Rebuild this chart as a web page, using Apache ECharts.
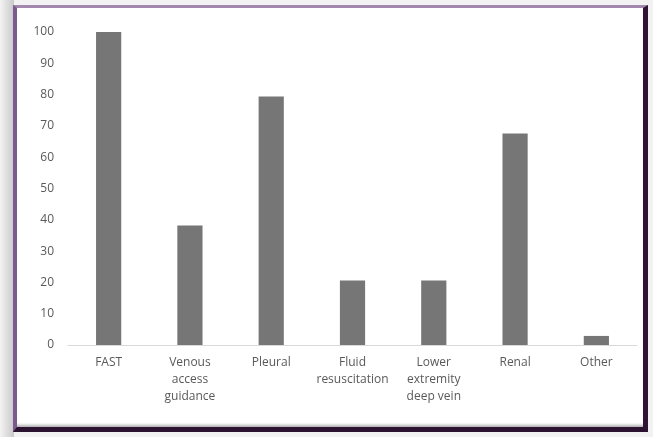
<!DOCTYPE html>
<html>
<head>
<meta charset="utf-8">
<script src="https://cdn.jsdelivr.net/npm/echarts@6/dist/echarts.min.js"></script>
<style>
  html, body { margin: 0; padding: 0; width: 653px; height: 437px; overflow: hidden; background: #f2f2f2; }
  #shadow { position: absolute; left: 0; top: 0; width: 14px; height: 437px;
    background: linear-gradient(to right, #f3f3f3, #c9c9c9); }
  #frame { position: absolute; left: 13px; top: 5px; width: 635px; height: 427px;
    background: #ffffff; border-left: 4px solid #7c5a8e; border-top: 3px solid #a387ae;
    border-right: 5px solid #2f1433; border-bottom: 5px solid #2a1230; box-sizing: border-box;
    box-shadow: inset 0 -4px 3px -2px #b0b0b0; }
  #chart { position: absolute; left: 0; top: 0; width: 653px; height: 437px; }
</style>
</head>
<body>
<div id="shadow"></div>
<div id="frame"></div>
<div id="chart"></div>
<script>
const categories = ['FAST', 'Venous\naccess\nguidance', 'Pleural', 'Fluid\nresuscitation', 'Lower\nextremity\ndeep vein', 'Renal', 'Other'];
const values = [100, 38.2, 79.4, 20.6, 20.6, 67.6, 2.9];

const chart = echarts.init(document.getElementById('chart'), null, { renderer: 'canvas' });
const font = 'Open Sans, Noto Sans, sans-serif';
chart.setOption({
  animation: false,
  backgroundColor: 'transparent',
  grid: { left: 68, right: 16, top: 32, bottom: 92 },
  xAxis: {
    type: 'category',
    data: categories,
    axisLine: { lineStyle: { color: '#d9d9d9', width: 1 } },
    axisTick: { show: false },
    axisLabel: { color: '#595959', fontSize: 12, fontFamily: font, lineHeight: 17, margin: 9, interval: 0 }
  },
  yAxis: {
    type: 'value',
    min: 0, max: 100, interval: 10,
    axisLine: { show: false },
    axisTick: { show: false },
    splitLine: { show: false },
    axisLabel: { color: '#595959', fontSize: 12, fontFamily: font, margin: 14 }
  },
  series: [{
    type: 'bar',
    data: values,
    barWidth: '31%',
    itemStyle: { color: '#767676' }
  }]
});
</script>
</body>
</html>
